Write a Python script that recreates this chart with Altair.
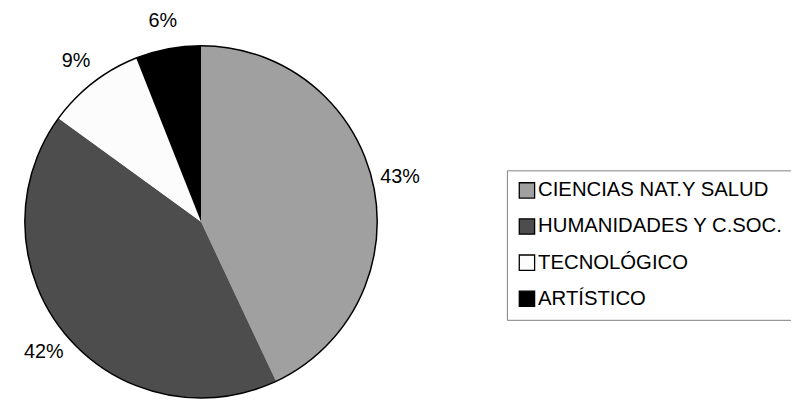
import altair as alt
import pandas as pd

categories = ["CIENCIAS NAT.Y SALUD", "HUMANIDADES Y C.SOC.", "TECNOLÓGICO", "ARTÍSTICO"]
values = [43, 42, 9, 6]
labels = ["43%", "42%", "9%", "6%"]
colors = ["#a0a0a0", "#4d4d4d", "#fcfcfc", "#000000"]

df = pd.DataFrame({"cat": categories, "value": values, "label": labels, "order": list(range(len(categories)))})

FONT = "Liberation Sans"
CX, CY, R = 195, 214, 178

base = alt.Chart(df).encode(
    theta=alt.Theta("value:Q", stack=True),
    order=alt.Order("order:Q"),
)

slices = base.mark_arc(radius=R, strokeWidth=0).encode(
    x=alt.value(CX),
    y=alt.value(CY),
    color=alt.Color(
        "cat:N",
        scale=alt.Scale(domain=categories, range=colors),
        sort=categories,
        legend=alt.Legend(
            title=None,
            orient="none",
            legendX=504,
            legendY=162,
            symbolType="square",
            symbolSize=240,
            symbolStrokeColor="black",
            symbolStrokeWidth=1.3,
            labelFont=FONT,
            labelFontSize=20.5,
            labelColor="black",
            labelOffset=1,
            labelLimit=400,
            rowPadding=14.5,
            padding=10,
            strokeColor="#808080",
            fillColor="white",
        ),
    ),
)

outline = alt.Chart(pd.DataFrame({"v": [1]})).mark_arc(
    radius=R, theta=0, theta2=6.2832, filled=False, stroke="black", strokeWidth=1.5, fill=None
).encode(x=alt.value(CX), y=alt.value(CY))

text = base.mark_text(radius=206, font=FONT, fontSize=20, color="black").encode(
    x=alt.value(CX),
    y=alt.value(CY),
    text="label:N",
)

chart = alt.layer(slices, outline, text).properties(
    width=791, height=395, autosize=alt.AutoSizeParams(type="none"), padding=0
).configure_view(stroke=None)

chart.save("out.html", embed_options={"renderer": "svg", "actions": False})
